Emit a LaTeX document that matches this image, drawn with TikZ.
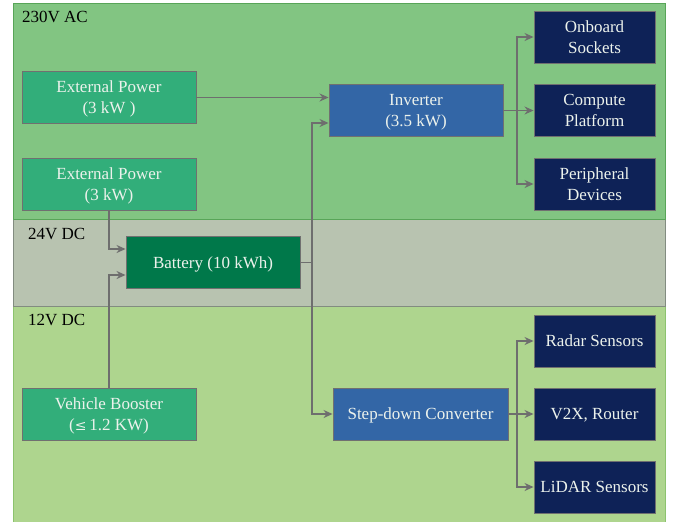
\documentclass[tikz,border=0pt]{standalone}
\usepackage{fontspec}
\setmainfont{Liberation Serif}
\usetikzlibrary{arrows.meta,calc}
\definecolor{acfill}{RGB}{130,197,130}
\definecolor{acedge}{RGB}{88,165,88}
\definecolor{dcfill}{RGB}{184,195,176}
\definecolor{dcedge}{RGB}{130,140,128}
\definecolor{lvfill}{RGB}{174,213,142}
\definecolor{lvedge}{RGB}{140,195,110}
\definecolor{srcfill}{RGB}{50,174,122}
\definecolor{convfill}{RGB}{51,102,166}
\definecolor{loadfill}{RGB}{14,34,87}
\definecolor{batfill}{RGB}{0,120,74}
\definecolor{wire}{RGB}{110,110,110}
\definecolor{boxedge}{RGB}{112,112,112}
\definecolor{boxtext}{RGB}{236,242,236}
\tikzset{
  blk/.style={draw=boxedge,line width=0.9pt,text=boxtext,align=center,inner sep=0pt,
    text depth=0pt,font=\fontsize{17}{21}\selectfont},
  src/.style={blk,fill=srcfill,minimum width=174pt,minimum height=52pt},
  conv/.style={blk,fill=convfill,minimum height=52pt},
  load/.style={blk,fill=loadfill,minimum width=121pt,minimum height=52pt},
  batt/.style={blk,fill=batfill,minimum width=174pt,minimum height=52pt},
  zonelabel/.style={anchor=west,inner sep=0pt,font=\fontsize{17}{21}\selectfont,text=black},
  wireline/.style={draw=wire,line width=1.4pt},
  arr/.style={wireline,-{Stealth[length=9pt,width=8pt]}},
}
\begin{document}
\begin{tikzpicture}[x=1pt,y=-1pt]
\useasboundingbox (0,0) rectangle (678,522);
% zones
\fill[lvfill] (13,306) rectangle (665,522);
\draw[lvedge,line width=1pt] (13,522) -- (13,306) -- (665,306) -- (665,522);
\filldraw[fill=dcfill,draw=dcedge,line width=1pt] (13,219) rectangle (665,306);
\filldraw[fill=acfill,draw=acedge,line width=1pt] (13,3) rectangle (665,219);
\node[zonelabel] (lac) at (22,16.5) {230V AC};
\node[zonelabel] (ldc) at (28,234) {24V DC};
\node[zonelabel] (llv) at (28,320) {12V DC};
% blocks
\node[src] (ext1) at (109,97.5) {External Power\\(3 kW )};
\node[src] (ext2) at (109,184) {External Power\\(3 kW)};
\node[conv,minimum width=174pt] (inv) at (416,110.5) {Inverter\\(3.5 kW)};
\node[load] (onb) at (594.5,37) {Onboard\\Sockets};
\node[load] (cmp) at (594.5,110.5) {Compute\\Platform};
\node[load] (per) at (594.5,184) {Peripheral\\Devices};
\node[batt] (bat) at (213,262.5) {Battery (10 kWh)};
\node[src] (veh) at (109,414) {Vehicle Booster\\(\fontspec{DejaVu Serif}\fontsize{14}{21}\selectfont≤\normalfont\fontsize{17}{21}\selectfont\,1.2 KW)};
\node[conv,minimum width=175pt] (sdc) at (420.5,414) {Step-down Converter};
\node[load] (rad) at (594.5,341) {Radar Sensors};
\node[load] (v2x) at (594.5,414) {V2X, Router};
\node[load] (lid) at (594.5,487) {LiDAR Sensors};
% junctions
\coordinate (jb) at (312,262.5);
\coordinate (ja) at (517,110.5);
\coordinate (jc) at (517,414);
\path (inv.west) ++(0,12.5) coordinate (inv2);
\path (bat.west) ++(0,-13.5) coordinate (bat1);
\path (bat.west) ++(0,12.5) coordinate (bat2);
% connectors
\draw[arr] (ext1.east) -- (ext1.east -| inv.west);
\draw[arr] (ext2.south) |- (bat1);
\draw[arr] (veh.north) |- (bat2);
\draw[wireline] (bat.east) -- (jb);
\draw[arr] (jb) |- (inv2);
\draw[arr] (jb) |- (sdc.west);
\draw[wireline] (inv.east) -- (ja);
\draw[arr] (ja) |- (onb.west);
\draw[arr] (ja) -- (cmp.west);
\draw[arr] (ja) |- (per.west);
\draw[wireline] (sdc.east) -- (jc);
\draw[arr] (jc) |- (rad.west);
\draw[arr] (jc) -- (v2x.west);
\draw[arr] (jc) |- (lid.west);
\end{tikzpicture}
\end{document}
